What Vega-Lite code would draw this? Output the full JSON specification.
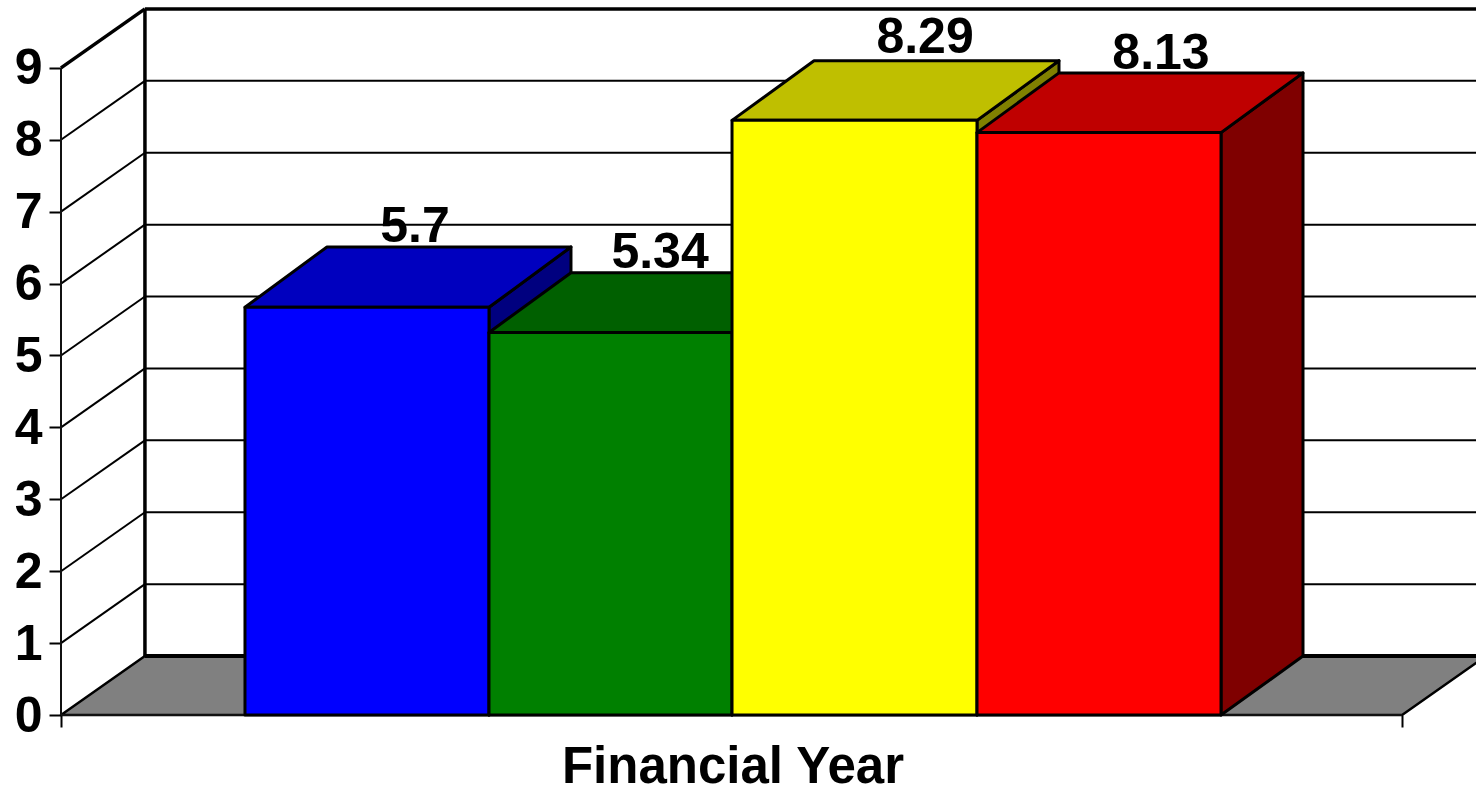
{"$schema":"https://vega.github.io/schema/vega-lite/v6.json","width":1476,"height":788,"padding":0,"autosize":{"type":"none"},"background":"white","config":{"view":{"stroke":null}},
"datasets":{
"wall":[{"x":0.344,"x2":5.8,"y":1.82},{"x":0.344,"x2":5.8,"y":2.82},{"x":0.344,"x2":5.8,"y":3.82},{"x":0.344,"x2":5.8,"y":4.82},{"x":0.344,"x2":5.8,"y":5.82},{"x":0.344,"x2":5.8,"y":6.82},{"x":0.344,"x2":5.8,"y":7.82},{"x":0.344,"x2":5.8,"y":8.82}],
"top":[{"x":0.344,"x2":5.8,"y":9.82,"y2":9.82},{"x":0,"x2":0.344,"y":9,"y2":9.82},{"x":0.344,"x2":0.344,"y":0.82,"y2":9.82}],
"diag":[{"x":0,"x2":0.344,"y":1,"y2":1.82},{"x":0,"x2":0.344,"y":2,"y2":2.82},{"x":0,"x2":0.344,"y":3,"y2":3.82},{"x":0,"x2":0.344,"y":4,"y2":4.82},{"x":0,"x2":0.344,"y":5,"y2":5.82},{"x":0,"x2":0.344,"y":6,"y2":6.82},{"x":0,"x2":0.344,"y":7,"y2":7.82},{"x":0,"x2":0.344,"y":8,"y2":8.82}],
"front":[{"x":0,"x2":0,"y":0,"y2":9},{"x":0,"x2":5.496,"y":0,"y2":0}],
"floorback":[{"x":0.344,"x2":5.8,"y":0.82}],
"floor":[{"x":0,"y":0,"y2":0},{"x":0.344,"y":0.82,"y2":0},{"x":5.496,"y":0.82,"y2":0},{"x":5.84,"y":0.82,"y2":0.82}],
"faces":[
{"part":"Blue side","x":1.754,"y":5.67,"y2":0},{"part":"Blue side","x":2.09,"y":6.51,"y2":0.82},
{"part":"Blue top","x":0.754,"y":5.67,"y2":5.67},{"part":"Blue top","x":1.09,"y":6.51,"y2":5.67},{"part":"Blue top","x":1.754,"y":6.51,"y2":5.67},{"part":"Blue top","x":2.09,"y":6.51,"y2":6.51},
{"part":"Blue front","x":0.754,"y":5.67,"y2":0},{"part":"Blue front","x":1.754,"y":5.67,"y2":0},
{"part":"Green side","x":2.75,"y":5.32,"y2":0},{"part":"Green side","x":3.086,"y":6.15,"y2":0.82},
{"part":"Green top","x":1.754,"y":5.32,"y2":5.32},{"part":"Green top","x":2.09,"y":6.15,"y2":5.32},{"part":"Green top","x":2.75,"y":6.15,"y2":5.32},{"part":"Green top","x":3.086,"y":6.15,"y2":6.15},
{"part":"Green front","x":1.754,"y":5.32,"y2":0},{"part":"Green front","x":2.75,"y":5.32,"y2":0},
{"part":"Yellow side","x":3.754,"y":8.27,"y2":0},{"part":"Yellow side","x":4.09,"y":9.1,"y2":0.82},
{"part":"Yellow top","x":2.75,"y":8.27,"y2":8.27},{"part":"Yellow top","x":3.086,"y":9.1,"y2":8.27},{"part":"Yellow top","x":3.754,"y":9.1,"y2":8.27},{"part":"Yellow top","x":4.09,"y":9.1,"y2":9.1},
{"part":"Yellow front","x":2.75,"y":8.27,"y2":0},{"part":"Yellow front","x":3.754,"y":8.27,"y2":0},
{"part":"Red side","x":4.754,"y":8.1,"y2":0},{"part":"Red side","x":5.09,"y":8.93,"y2":0.82},
{"part":"Red top","x":3.754,"y":8.1,"y2":8.1},{"part":"Red top","x":4.09,"y":8.93,"y2":8.1},{"part":"Red top","x":4.754,"y":8.93,"y2":8.1},{"part":"Red top","x":5.09,"y":8.93,"y2":8.93},
{"part":"Red front","x":3.754,"y":8.1,"y2":0},{"part":"Red front","x":4.754,"y":8.1,"y2":0}],
"labels":[{"x":1.451,"y":6.578,"value":"5.7"},{"x":2.455,"y":6.217,"value":"5.34"},{"x":3.541,"y":9.207,"value":"8.29"},{"x":4.508,"y":8.985,"value":"8.13"}]
},
"encoding":{
"x":{"field":"x","type":"quantitative","scale":{"domain":[-0.25,5.799],"nice":false,"zero":false},"axis":{"values":[0,5.496],"labels":false,"domain":false,"grid":false,"offset":-73,"tickSize":12,"tickWidth":2,"tickColor":"black","title":"Financial Year","titleFont":"Liberation Sans","titleFontWeight":"bold","titleFontSize":51,"titleColor":"black","titleX":732.5,"titleY":67,"titleBaseline":"alphabetic"}},
"y":{"field":"y","type":"quantitative","stack":null,"scale":{"domain":[-1.015,9.944],"nice":false,"zero":false},"axis":{"values":[0,1,2,3,4,5,6,7,8,9],"format":"d","domain":false,"grid":false,"offset":-61,"tickSize":12,"tickWidth":2,"tickColor":"black","labelPadding":7,"labelOffset":1,"labelFont":"Liberation Sans","labelFontWeight":"bold","labelFontSize":50,"labelColor":"black","title":null}}
},
"layer":[
{"data":{"name":"wall"},"mark":{"type":"rule","color":"black","strokeWidth":2},"encoding":{"x2":{"field":"x2"}}},
{"data":{"name":"diag"},"mark":{"type":"rule","color":"black","strokeWidth":2},"encoding":{"x2":{"field":"x2"},"y2":{"field":"y2"}}},
{"data":{"name":"top"},"mark":{"type":"rule","color":"black","strokeWidth":3.5},"encoding":{"x2":{"field":"x2"},"y2":{"field":"y2"}}},
{"data":{"name":"floor"},"mark":{"type":"area","orient":"vertical","clip":true,"color":"#808080","stroke":"black","strokeWidth":2.5,"strokeJoin":"round"},"encoding":{"y2":{"field":"y2"}}},
{"data":{"name":"floorback"},"mark":{"type":"rule","color":"black","strokeWidth":4},"encoding":{"x2":{"field":"x2"}}},
{"data":{"name":"front"},"mark":{"type":"rule","color":"#111111","strokeWidth":2},"encoding":{"x2":{"field":"x2"},"y2":{"field":"y2"}}},
{"data":{"name":"faces"},"mark":{"type":"area","orient":"vertical","stroke":"black","strokeWidth":3,"strokeJoin":"round","opacity":1,"fillOpacity":1},"encoding":{"y2":{"field":"y2"},"color":{"field":"part","type":"nominal","legend":null,"scale":{"domain":["Blue side","Blue top","Blue front","Green side","Green top","Green front","Yellow side","Yellow top","Yellow front","Red side","Red top","Red front"],"range":["#00007f","#0000bf","#0000ff","#004000","#006000","#008000","#808000","#bfbf00","#ffff00","#7f0000","#bf0000","#ff0000"]}},"stroke":{"value":"black"}}},
{"data":{"name":"labels"},"mark":{"type":"text","font":"Liberation Sans","fontWeight":"bold","fontSize":50,"baseline":"alphabetic","align":"center","color":"black"},"encoding":{"text":{"field":"value"}}}
]}
